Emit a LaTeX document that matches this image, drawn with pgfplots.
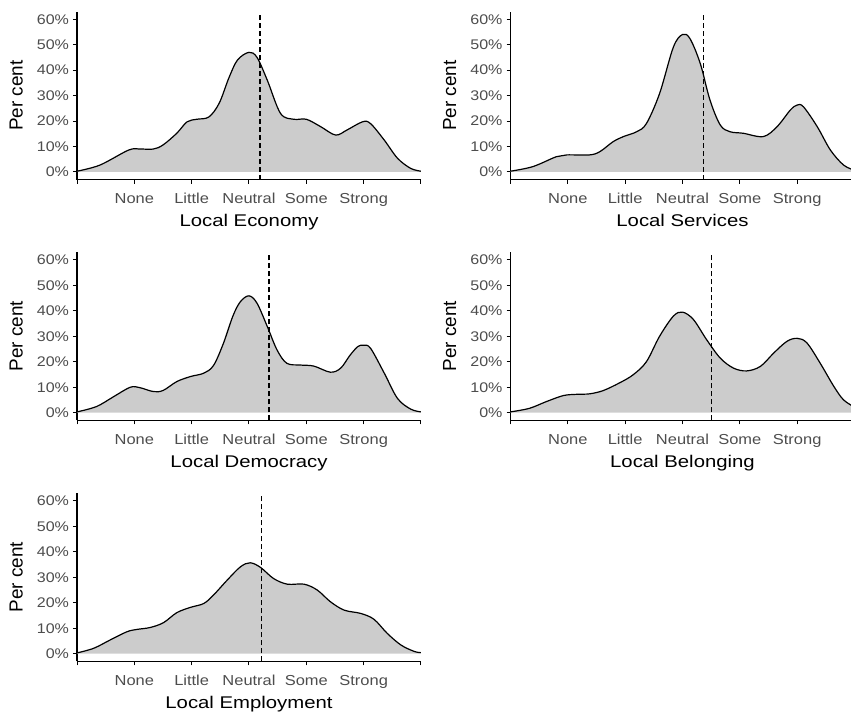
\documentclass[border=0pt]{standalone}
\usepackage{pgfplots}
\pgfplotsset{compat=1.18}
\usepackage{fontspec}
\setmainfont{Liberation Sans}
\definecolor{fillg}{HTML}{CCCCCC}
\definecolor{tickg}{HTML}{4D4D4D}

\pgfplotstableread{
x y
0 0.3
0.4 2.7
0.9 8.6
1.1 9.0
1.33 9.0
1.5 10.6
1.74 15.2
1.92 19.7
2.09 20.7
2.3 21.6
2.48 27
2.65 37
2.8 44
3.0 47
3.14 45
3.32 36
3.55 23
3.78 20.7
4.0 20.7
4.25 17.8
4.51 14.5
4.71 16.5
4.98 19.7
5.12 19
5.36 12.5
5.59 5.4
5.82 1.4
6.0 0.3
}\economy

\pgfplotstableread{
x y
0 0.3
0.39 2.1
0.8 6
0.98 6.7
1.38 6.7
1.56 8
1.79 11.9
1.97 13.9
2.2 15.8
2.37 19
2.6 30.8
2.84 49
3.0 54
3.13 52.4
3.31 42.6
3.48 28.2
3.66 18.4
3.83 15.8
4.06 15.2
4.41 13.9
4.65 17.8
4.88 24.3
5.0 26.3
5.11 25.6
5.35 17.8
5.58 8.6
5.81 2.7
6.0 0.7
}\services

\pgfplotstableread{
x y
0 0.3
0.34 2.4
0.64 6.3
0.93 10
1.1 9.8
1.33 8.3
1.5 8.7
1.74 12.2
1.98 14.2
2.21 15.5
2.38 18.5
2.55 27
2.72 38
2.85 43.6
3.0 45.9
3.14 43
3.32 33.8
3.49 24.6
3.66 19.4
3.9 18.7
4.13 18.3
4.42 15.9
4.6 17.5
4.76 22.5
4.9 26
5.0 26.5
5.12 25.3
5.36 15.5
5.59 5.6
5.82 1.4
6.0 0.3
}\democracy

\pgfplotstableread{
x y
0 0.3
0.33 1.7
0.62 4.3
0.92 6.7
1.15 7.2
1.38 7.4
1.62 8.7
1.91 11.8
2.14 14.9
2.37 20
2.6 30
2.84 37.9
3.0 39.5
3.19 36.6
3.42 28.7
3.66 21.4
3.89 17.5
4.12 16.4
4.36 18.2
4.59 23.4
4.82 28
5.0 29.2
5.17 27.4
5.4 19.5
5.64 10.3
5.81 5
6.0 2.2
}\belonging

\pgfplotstableread{
x y
0 0.3
0.29 2.1
0.58 5.4
0.87 8.6
1.04 9.5
1.28 10.3
1.51 12.2
1.74 16.1
1.98 18.2
2.21 19.7
2.38 23
2.62 28.9
2.85 34.1
3.02 35.7
3.2 33.9
3.43 29.5
3.67 27.3
3.96 27.3
4.19 25
4.42 20.4
4.66 17.1
4.95 15.8
5.18 13.5
5.41 8
5.65 3.4
5.88 0.9
6.0 0.4
}\employment

\pgfplotsset{
  dens/.style={
    scale only axis, width=344bp, height=168bp,
    xmin=0, xmax=6, ymin=-3, ymax=63,
    axis x line=bottom, axis y line=left,
    axis line style={-, line width=1.1bp, black},
    xtick={0,1,2,3,4,5,6},
    xticklabels={,None,Little,Neutral,Some,Strong,},
    ytick={0,10,20,30,40,50,60},
    yticklabels={0\%,10\%,20\%,30\%,40\%,50\%,60\%},
    tick align=outside, major tick length=4bp,
    tick style={line width=1bp, black},
    yticklabel style={font=\fontsize{14}{16}\selectfont, text=tickg, xscale=1.15},
    xticklabel style={font=\fontsize{14.5}{16}\selectfont, text=tickg,
      anchor=base, yshift=-20bp, inner sep=0pt, xscale=1.14},
    xlabel style={font=\fontsize{17}{20}\selectfont, text=black,
      at={(axis description cs:0.5,-0.28)}, anchor=base, xscale=1.2},
    ylabel style={font=\fontsize{19}{22}\selectfont, text=black,
      at={(axis description cs:-0.177,0.5)}, anchor=center, rotate=0},
    ylabel={Per cent},
    clip=true,
  },
  area/.style={draw=none, fill=fillg, smooth, tension=0.55},
  curve/.style={black, line width=1.2bp, smooth, tension=0.55},
  mline/.style={black, line width=1.3bp, dash pattern=on 5bp off 3bp},
}

\begin{document}
\begin{tikzpicture}
\path[use as bounding box] (0,0) rectangle (851bp,712bp);

\begin{axis}[dens, at={(77bp,532.4bp)}, anchor=south west, xlabel={Local Economy}]
\addplot[area] table {\economy} \closedcycle;
\addplot[curve] table {\economy};
\addplot[mline] coordinates {(3.19,-3) (3.19,63)};
\end{axis}

\begin{axis}[dens, at={(510.5bp,532.4bp)}, anchor=south west, xlabel={Local Services}]
\addplot[area] table {\services} \closedcycle;
\addplot[curve] table {\services};
\addplot[mline] coordinates {(3.37,-3) (3.37,63)};
\end{axis}

\begin{axis}[dens, at={(77bp,291.7bp)}, anchor=south west, xlabel={Local Democracy}]
\addplot[area] table {\democracy} \closedcycle;
\addplot[curve] table {\democracy};
\addplot[mline] coordinates {(3.35,-3) (3.35,63)};
\end{axis}

\begin{axis}[dens, at={(510.5bp,291.7bp)}, anchor=south west, xlabel={Local Belonging}]
\addplot[area] table {\belonging} \closedcycle;
\addplot[curve] table {\belonging};
\addplot[mline] coordinates {(3.51,-3) (3.51,63)};
\end{axis}

\begin{axis}[dens, at={(77bp,50.7bp)}, anchor=south west, xlabel={Local Employment}]
\addplot[area] table {\employment} \closedcycle;
\addplot[curve] table {\employment};
\addplot[mline] coordinates {(3.22,-3) (3.22,63)};
\end{axis}
\end{tikzpicture}
\end{document}
